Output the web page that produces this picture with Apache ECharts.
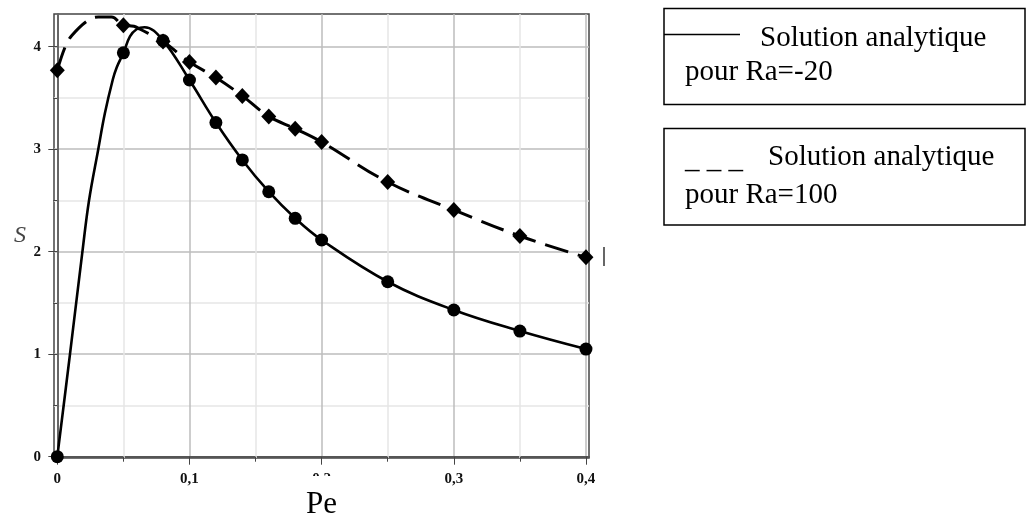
<!DOCTYPE html>
<html><head><meta charset="utf-8">
<script src="https://cdn.jsdelivr.net/npm/echarts@6/dist/echarts.min.js"></script>
<style>html,body{margin:0;padding:0;background:#fff}#c{width:1030px;height:518px}</style>
</head><body><div id="c"></div>
<script>
// Curve Ra=-20 (solid)
const curvePeRa20 = [0, 0.0096, 0.019, 0.024, 0.031, 0.036, 0.042, 0.045, 0.05, 0.055, 0.06, 0.066, 0.08, 0.1, 0.12, 0.14, 0.16, 0.18, 0.2, 0.25, 0.3, 0.35, 0.4];
const curveSRa20  = [0, 1.0, 2.0, 2.5, 3.0, 3.35, 3.68, 3.80, 3.94, 4.10, 4.17, 4.19, 4.06, 3.675, 3.26, 2.895, 2.585, 2.326, 2.114, 1.707, 1.431, 1.226, 1.05];
// Curve Ra=100 (dashed)
const curvePeRa100 = [0, 0.006, 0.011, 0.0235, 0.031, 0.041, 0.05, 0.058, 0.0627, 0.08, 0.1, 0.12, 0.14, 0.16, 0.18, 0.2, 0.25, 0.3, 0.35, 0.4];
const curveSRa100  = [3.77, 4.0, 4.11, 4.26, 4.29, 4.29, 4.21, 4.20, 4.17, 4.05, 3.85, 3.70, 3.52, 3.32, 3.20, 3.07, 2.68, 2.407, 2.153, 1.945];
// Marked points
const markPe     = [0, 0.05, 0.08, 0.1, 0.12, 0.14, 0.16, 0.18, 0.2, 0.25, 0.3, 0.35, 0.4];
const markSRa20  = [0, 3.94, 4.06, 3.675, 3.26, 2.895, 2.585, 2.326, 2.114, 1.707, 1.431, 1.226, 1.05];
const markSRa100 = [3.77, 4.21, 4.05, 3.85, 3.70, 3.52, 3.32, 3.20, 3.07, 2.68, 2.407, 2.153, 1.945];
// Ticks
const xMajorTicks = [0, 0.1, 0.2, 0.3, 0.4];
const xMinorTicks = [0.05, 0.15, 0.25, 0.35];
const yMajorTicks = [0, 1, 2, 3, 4];
const yMinorTicks = [0.5, 1.5, 2.5, 3.5];
const xName = 'Pe';
const yName = 'S';
const legendLine1 = ['Solution analytique', 'pour Ra=-20'];
const legendLine2 = ['Solution analytique', 'pour Ra=100'];

const zip = (a, b) => a.map((v, i) => [v, b[i]]);
const chart = echarts.init(document.getElementById('c'), null, {renderer: 'canvas'});
const labelFont = {fontFamily: 'Liberation Serif', fontWeight: 'bold', fontSize: 15, color: '#111'};
const xFmt = v => (Math.abs(v) < 1e-9 ? '0' : v.toFixed(1).replace('.', ','));
const legFont = '29px "Liberation Serif"';

chart.setOption({
  animation: false,
  backgroundColor: '#fff',
  grid: {left: 54, right: 441, top: 14, bottom: 60, containLabel: false, outerBoundsMode: 'none',
         show: true, borderColor: '#444', borderWidth: 1.5, backgroundColor: 'transparent'},
  xAxis: [{
    type: 'value', position: 'bottom', min: -0.0025, max: 0.4023, z: 3,
    axisLine: {show: true, lineStyle: {color: '#555', width: 2}},
    axisTick: {show: true, customValues: xMajorTicks, length: 8, lineStyle: {color: '#444'}},
    axisLabel: Object.assign({customValues: xMajorTicks, margin: 14, formatter: xFmt}, labelFont),
    splitLine: {show: true, lineStyle: {color: '#bdbdbd', width: 1.5}}
  }, {
    type: 'value', position: 'bottom', min: -0.0025, max: 0.4023, z: 4,
    name: xName, nameLocation: 'middle', nameGap: 18,
    nameTextStyle: {fontFamily: 'Liberation Serif', fontSize: 31, color: '#000', backgroundColor: '#fff', padding: [13, 8, 2, 8]},
    axisLine: {show: false},
    axisTick: {show: true, customValues: xMinorTicks, length: 5, lineStyle: {color: '#444'}},
    axisLabel: {show: false},
    splitLine: {show: true, lineStyle: {color: '#e6e6e6', width: 1.5}}
  }],
  yAxis: [{
    type: 'value', position: 'left', min: -0.0127, max: 4.319, z: 3,
    name: yName, nameLocation: 'middle', nameGap: 28, nameRotate: 0,
    nameTextStyle: {fontFamily: 'Liberation Serif', fontStyle: 'italic', fontSize: 24, color: '#444', padding: [8, 0, 0, 0]},
    axisLine: {show: true, lineStyle: {color: '#666', width: 2}},
    axisTick: {show: true, customValues: yMajorTicks, length: 9, lineStyle: {color: '#444'}},
    axisLabel: Object.assign({customValues: yMajorTicks, margin: 13, formatter: v => String(Math.round(v))}, labelFont),
    splitLine: {show: true, lineStyle: {color: '#bdbdbd', width: 1.5}}
  }, {
    type: 'value', position: 'left', min: -0.0127, max: 4.319, z: 2,
    axisLine: {show: false},
    axisTick: {show: true, customValues: yMinorTicks, length: 4, lineStyle: {color: '#444'}},
    axisLabel: {show: false},
    splitLine: {show: true, lineStyle: {color: '#e6e6e6', width: 1.5}}
  }],
  series: [
    {type: 'line', name: 'Ra=-20', xAxisIndex: 0, yAxisIndex: 0, data: zip(curvePeRa20, curveSRa20),
     showSymbol: false, smooth: 0.4, lineStyle: {color: '#000', width: 2.6}, z: 5},
    {type: 'line', name: 'Ra=100', xAxisIndex: 0, yAxisIndex: 0, data: zip(curvePeRa100, curveSRa100),
     showSymbol: false, smooth: 0.4, lineStyle: {color: '#000', width: 3, type: [24, 10]}, z: 5},
    {type: 'scatter', xAxisIndex: 0, yAxisIndex: 0, data: zip(markPe, markSRa20), symbol: 'circle', symbolSize: 13,
     itemStyle: {color: '#000', opacity: 1}, z: 6},
    {type: 'scatter', xAxisIndex: 0, yAxisIndex: 0, data: zip(markPe, markSRa100), symbol: 'diamond', symbolSize: [15, 16],
     itemStyle: {color: '#000', opacity: 1}, z: 6}
  ],
  graphic: [
    {type: 'rect', shape: {x: 664, y: 8.5, width: 361, height: 96}, style: {fill: 'none', stroke: '#000', lineWidth: 1.5}},
    {type: 'line', shape: {x1: 664, y1: 34.5, x2: 740, y2: 34.5}, style: {stroke: '#000', lineWidth: 1.3}},
    {type: 'text', x: 760, y: 38, style: {text: legendLine1[0], font: legFont, fill: '#000', verticalAlign: 'middle'}},
    {type: 'text', x: 685, y: 72.5, style: {text: legendLine1[1], font: legFont, fill: '#000', verticalAlign: 'middle'}},
    {type: 'rect', shape: {x: 664, y: 128.5, width: 361, height: 96.5}, style: {fill: 'none', stroke: '#000', lineWidth: 1.5}},
    {type: 'text', x: 685, y: 160, style: {text: '_ _ _', font: legFont, fill: '#000', verticalAlign: 'middle'}},
    {type: 'text', x: 768, y: 157, style: {text: legendLine2[0], font: legFont, fill: '#000', verticalAlign: 'middle'}},
    {type: 'text', x: 685, y: 195, style: {text: legendLine2[1], font: legFont, fill: '#000', verticalAlign: 'middle'}},
    {type: 'line', shape: {x1: 604, y1: 247, x2: 604, y2: 266}, style: {stroke: '#000', lineWidth: 1.2}}
  ]
});
</script></body></html>
